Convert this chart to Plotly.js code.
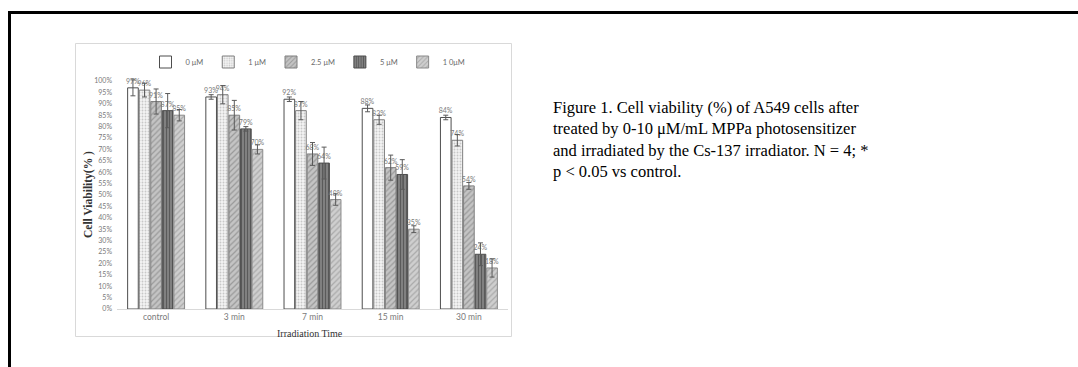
<!DOCTYPE html>
<html>
<head>
<meta charset="utf-8">
<script src="https://cdn.plot.ly/plotly-3.0.1.min.js"></script>
<style>
html,body{margin:0;padding:0;background:#fff;}
#chart{width:1078px;height:367px;}
</style>
</head>
<body>
<div id="chart"></div>
<script>
// ---- data ----
const categories = ["control", "3 min", "7 min", "15 min", "30 min"];
const seriesNames = ["0 μM", "1 μM", "2.5 μM", "5 μM", "1 0μM"];
const v0   = [97, 93, 92, 88, 84];
const v1   = [96, 94, 87, 83, 74];
const v25  = [91, 85, 68, 62, 54];
const v5   = [87, 79, 64, 59, 24];
const v10  = [85, 70, 48, 35, 18];
const e0   = [3.5, 1, 1, 1.5, 1];
const e1   = [3, 4, 4, 2, 2.5];
const e25  = [5.5, 6.5, 5, 5.5, 1.5];
const e5   = [7.5, 1, 7, 6.5, 5];
const e10  = [2.5, 2, 2.5, 1.5, 4];
const yTickVals = [0,5,10,15,20,25,30,35,40,45,50,55,60,65,70,75,80,85,90,95,100];
const captionLines = [
  "Figure 1. Cell viability (%) of A549 cells after",
  "treated by 0-10 μM/mL MPPa photosensitizer",
  "and irradiated by the Cs-137 irradiator. N = 4; *",
  "p < 0.05 vs control."
];

// ---- geometry helpers (pixel -> paper) ----
const W = 1078, H = 367;
const L = 117, R = 508, T = 70, B = 309;
const px = x => (x - L) / (R - L);
const py = y => (B - y) / (B - T);

const styles = [
  {color: "#ffffff", line: "#4d4d4d", pattern: {shape: ""}},
  {color: "#f0f0f0", line: "#7f7f7f", pattern: {shape: ".", fgcolor: "#c8c8c8", bgcolor: "#f4f4f4", size: 3, solidity: 0.3}},
  {color: "#bdbdbd", line: "#7f7f7f", pattern: {shape: "/", fgcolor: "#9a9a9a", bgcolor: "#c4c4c4", size: 4, solidity: 0.3}},
  {color: "#7a7a7a", line: "#4d4d4d", pattern: {shape: "|", fgcolor: "#5a5a5a", bgcolor: "#808080", size: 3, solidity: 0.35}},
  {color: "#c8c8c8", line: "#8a8a8a", pattern: {shape: "/", fgcolor: "#aaaaaa", bgcolor: "#cfcfcf", size: 4, solidity: 0.3}}
];
const vals = [v0, v1, v25, v5, v10];
const errs = [e0, e1, e25, e5, e10];

const traces = vals.map((v, i) => ({
  type: "bar",
  name: seriesNames[i],
  x: categories,
  y: v,
  text: v.map(d => d + "%"),
  textposition: "outside",
  constraintext: "none",
  cliponaxis: false,
  textfont: {family: "Lato, 'Open Sans', sans-serif", size: 7, color: "#7a7a7a"},
  marker: {color: styles[i].color, line: {color: styles[i].line, width: 1}, pattern: styles[i].pattern},
  error_y: {type: "data", array: errs[i], visible: true, color: "#5a5a5a", thickness: 1, width: 2.5},
  hoverinfo: "none"
}));

const layout = {
  width: W, height: H,
  margin: {l: L, r: W - R, t: T, b: H - B, pad: 0},
  paper_bgcolor: "#ffffff",
  plot_bgcolor: "#ffffff",
  barmode: "group",
  bargap: 0.26,
  bargroupgap: 0.08,
  showlegend: true,
  legend: {
    orientation: "h", x: px(308), xanchor: "center", y: py(62), yanchor: "middle",
    font: {family: "Lato, 'Open Sans', sans-serif", size: 7.5, color: "#6a6a6a"},
    itemwidth: 30, traceorder: "normal", bgcolor: "rgba(0,0,0,0)"
  },
  xaxis: {
    type: "category",
    showgrid: false, zeroline: false,
    showline: true, linecolor: "#d9d9d9", linewidth: 1,
    ticks: "", tickfont: {family: "Lato, 'Open Sans', sans-serif", size: 8.5, color: "#7a7a7a"},
    fixedrange: true
  },
  yaxis: {
    range: [0, (B - T) / 2.28],
    tickvals: yTickVals,
    ticktext: yTickVals.map(t => t + "%"),
    showgrid: false, zeroline: false, showline: false,
    ticks: "", ticklabelstandoff: 4,
    tickfont: {family: "Lato, 'Open Sans', sans-serif", size: 7, color: "#7a7a7a"},
    fixedrange: true
  },
  shapes: [
    // outer black frame (left and top)
    {type: "line", xref: "paper", yref: "paper", x0: px(9.5), x1: px(9.5), y0: py(12.5), y1: py(370), line: {color: "#000", width: 3}},
    {type: "line", xref: "paper", yref: "paper", x0: px(8), x1: px(1080), y0: py(12.5), y1: py(12.5), line: {color: "#000", width: 3}},
    // inner chart area border
    {type: "rect", xref: "paper", yref: "paper", x0: px(75.5), x1: px(511.5), y0: py(43.5), y1: py(336.5), line: {color: "#d9d9d9", width: 1}, fillcolor: "rgba(0,0,0,0)"}
  ],
  annotations: [
    {xref: "paper", yref: "paper", x: px(88), y: py(195), text: "<b>Cell Viability(% )</b>", textangle: -90, showarrow: false,
     xanchor: "center", yanchor: "middle", font: {family: "'Liberation Serif', 'Times New Roman', serif", size: 11.5, color: "#333"}},
    {xref: "paper", yref: "paper", x: px(310), y: py(333), text: "Irradiation Time", showarrow: false,
     xanchor: "center", yanchor: "middle", font: {family: "'Liberation Serif', 'Times New Roman', serif", size: 10, color: "#333"}},
    {xref: "paper", yref: "paper", x: px(551), y: py(139), text: captionLines.join("<br>"), showarrow: false, align: "left",
     xanchor: "left", yanchor: "middle", font: {family: "'Liberation Serif', 'Times New Roman', serif", size: 16.5, color: "#000"}}
  ]
};

Plotly.newPlot("chart", traces, layout, {staticPlot: true, displayModeBar: false});
</script>
</body>
</html>
